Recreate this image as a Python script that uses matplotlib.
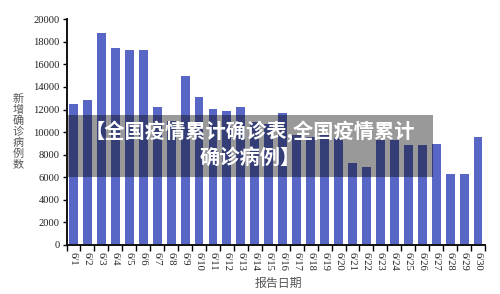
"""
Daily new confirmed cases, June - bar chart with caption overlay.
"""

import matplotlib
matplotlib.use("Agg")
import matplotlib.pyplot as plt
from matplotlib.patches import Rectangle
import numpy as np

# Data (values hidden by the overlay are estimates)
dates = [f"6/{d}" for d in range(1, 31)]
new_cases = [
    12500, 12850, 18800, 17450, 17300, 17250, 12200, 11000, 15000, 13100,
    12050, 11850, 12250, 10900, 10700, 11650, 9700, 9600, 9700, 9500,
    7250, 6950, 9300, 9300, 8900, 8850, 8950, 6300, 6300, 9600,
]
y_ticks = list(range(0, 20001, 2000))

BAR_COLOR = "#5866C6"
CJK = ["Noto Sans CJK SC", "DejaVu Sans"]
SERIF = "Liberation Serif"


def plot_cases(save_path="out.png"):
    fig = plt.figure(figsize=(5.0, 2.94), dpi=100)
    ax = fig.add_axes([0.133, 0.1667, 0.837, 0.768])

    x = np.arange(len(dates))
    ax.bar(x, new_cases, width=0.64, color=BAR_COLOR, zorder=2)

    ax.set_xlim(-0.5, len(dates) - 0.5)
    ax.set_ylim(0, 20000)

    # y axis
    ax.set_yticks(y_ticks)
    ax.set_yticklabels([str(v) for v in y_ticks], fontfamily=SERIF, fontsize=7.6, color="#222222")
    ax.tick_params(axis="y", direction="out", length=3, width=1, pad=2)

    # x axis: labels under bars, tick marks between bars
    ax.set_xticks(x)
    ax.set_xticklabels(dates, rotation=-90, fontfamily=SERIF, fontsize=7.6, color="#222222")
    ax.tick_params(axis="x", which="major", length=0, pad=5)
    ax.set_xticks(np.arange(-0.5, len(dates), 1.0), minor=True)
    ax.tick_params(axis="x", which="minor", direction="out", length=4, width=1)

    for side in ("top", "right"):
        ax.spines[side].set_visible(False)
    for side in ("left", "bottom"):
        ax.spines[side].set_linewidth(1.4)
        ax.spines[side].set_color("#111111")

    # axis titles
    fig.text(0.036, 0.552, "\n".join("新增确诊病例数"), family=CJK, fontsize=8,
             color="#555555", ha="center", va="center", linespacing=1.07)
    fig.text(0.556, 0.037, "报告日期", family=CJK, fontsize=8.6,
             color="#555555", ha="center", va="center")

    # caption overlay
    fig.patches.append(Rectangle((0.136, 0.398), 0.73, 0.211, transform=fig.transFigure,
                                 facecolor="black", alpha=0.4, edgecolor="none", zorder=5))
    fig.text(0.5, 0.508, "【全国疫情累计确诊表,全国疫情累计\n确诊病例】", family=CJK,
             fontsize=14.6, fontweight=900, color="white", ha="center", va="center",
             multialignment="center", linespacing=1.2, zorder=6)

    fig.savefig(save_path, dpi=100)


if __name__ == "__main__":
    plot_cases()
